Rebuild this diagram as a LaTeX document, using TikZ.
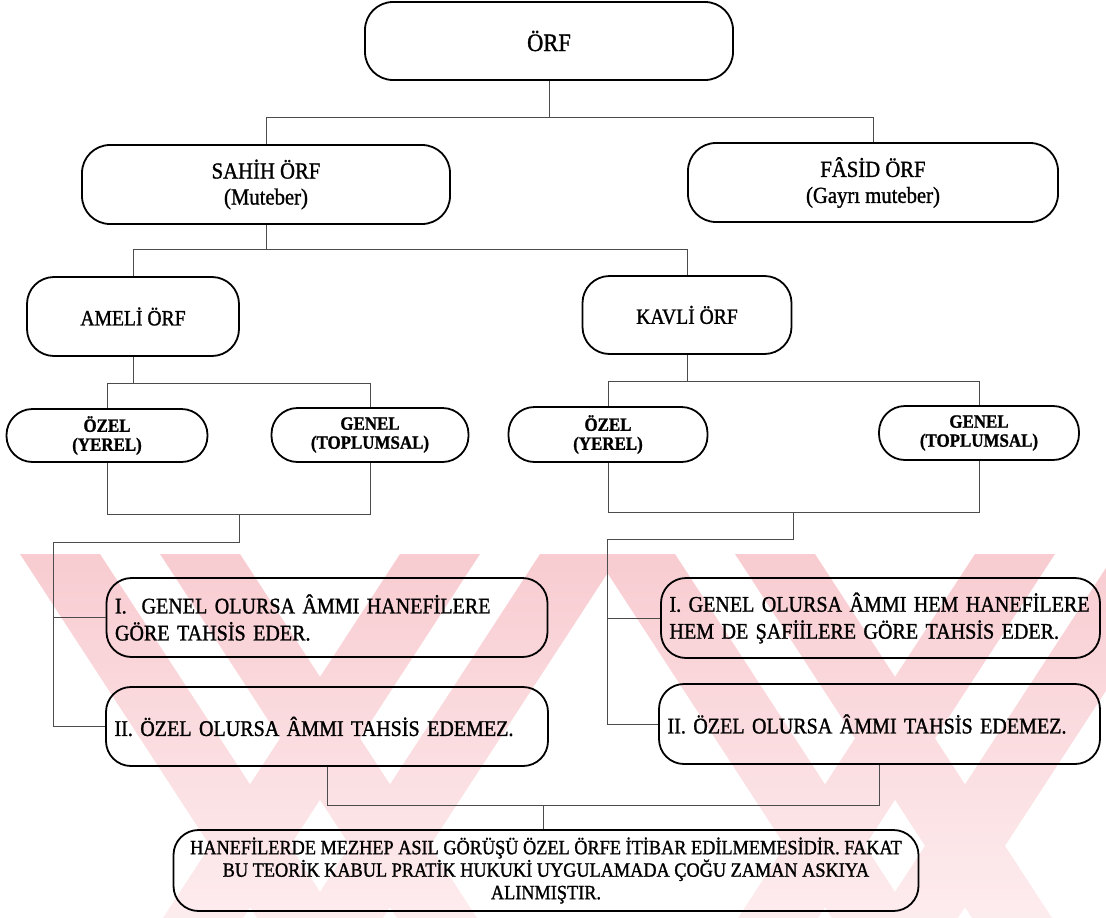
\documentclass[tikz,border=0pt]{standalone}
\usepackage{fontspec}
\setmainfont{Liberation Serif}[FakeBold=1.2,FakeStretch=0.9]
\definecolor{wmtop}{RGB}{248,204,209}
\definecolor{wmbot}{RGB}{253,236,238}
\newcommand\fsTop{\fontsize{25}{28}\selectfont}
\newcommand\fsSec{\fontsize{23}{26}\selectfont}
\newcommand\fsThird{\fontsize{21.8}{24}\selectfont}
\newcommand\fsFourth{\fontsize{18.8}{19}\selectfont\bfseries}
\newcommand\fsRule{\fontsize{22.3}{27}\selectfont}
\newcommand\fsBottom{\fontsize{20.3}{22.5}\selectfont}
\begin{document}
\begin{tikzpicture}[x=1pt,y=-1pt,
  box/.style={draw=black, line width=1.8pt, rounded corners=#1, inner sep=0pt},
  box/.default=26pt,
  rulebox/.style={box=25pt, align=left, inner xsep=8.5pt, text width=#1},
  conn/.style={draw=black!70, line width=0.9pt},
  wmstripe/.style={top color=wmtop, bottom color=wmbot, draw=none}]
\useasboundingbox (0,0) rectangle (1106,918);

% watermark
\begin{scope}
\clip (0,554) rectangle (1106,918);
\foreach \x in {20,160,595,735}
  \shade[wmstripe] (\x,554) -- (\x+80,554) -- (\x+317,918) -- (\x+237,918) -- cycle;
\foreach \x in {400,540,975,1115}
  \shade[wmstripe] (\x,554) -- (\x+80,554) -- (\x-157,918) -- (\x-237,918) -- cycle;
\end{scope}

% nodes
\node[box=28pt, minimum width=368pt, minimum height=78pt, font=\fsTop] (orf) at (549,41) {ÖRF};
\node[box=28pt, minimum width=368pt, minimum height=79pt, align=center, font=\fsSec] (sahih) at (266,184.5) {SAHİH ÖRF\\(Muteber)};
\node[box=28pt, minimum width=370pt, minimum height=79pt, align=center, font=\fsSec] (fasid) at (873,182.5) {FÂSİD ÖRF\\(Gayrı muteber)};
\node[box=27pt, minimum width=212pt, minimum height=79pt, font=\fsThird] (ameli) at (133,316.5) {AMELİ ÖRF};
\node[box=27pt, minimum width=209pt, minimum height=78pt, font=\fsThird] (kavli) at (687,315) {KAVLİ ÖRF};
\node[box=26pt, minimum width=201pt, minimum height=53pt, align=center, font=\fsFourth] (ozelL) at (107,435.5) {ÖZEL\\(YEREL)};
\node[box=26pt, minimum width=197pt, minimum height=54pt, align=center, font=\fsFourth] (genelL) at (370,435) {GENEL\\(TOPLUMSAL)};
\node[box=26pt, minimum width=199pt, minimum height=55pt, align=center, font=\fsFourth] (ozelR) at (608,434.5) {ÖZEL\\(YEREL)};
\node[box=26pt, minimum width=200pt, minimum height=54pt, align=center, font=\fsFourth] (genelR) at (979,433) {GENEL\\(TOPLUMSAL)};
\node[rulebox=424pt, minimum height=79pt, font=\fsRule] (iL) at (327,617.5) {I.\ \ GENEL OLURSA ÂMMI HANEFİLERE\\GÖRE TAHSİS EDER.};
\node[rulebox=422pt, minimum height=80pt, font=\fsRule] (iR) at (880.5,618) {I. GENEL OLURSA ÂMMI HEM HANEFİLERE\\HEM DE ŞAFİİLERE GÖRE TAHSİS EDER.};
\node[rulebox=425pt, minimum height=79pt, font=\fsRule] (iiL) at (327,726.5) {II. ÖZEL OLURSA ÂMMI TAHSİS EDEMEZ.};
\node[rulebox=424pt, minimum height=80pt, font=\fsRule] (iiR) at (879.5,724) {II. ÖZEL OLURSA ÂMMI TAHSİS EDEMEZ.};
\node[box=25pt, minimum width=745pt, minimum height=81pt, align=center, font=\fsBottom] (bottom) at (546,870.5) {HANEFİLERDE MEZHEP ASIL GÖRÜŞÜ ÖZEL ÖRFE İTİBAR EDİLMEMESİDİR. FAKAT\\BU TEORİK KABUL PRATİK HUKUKİ UYGULAMADA ÇOĞU ZAMAN ASKIYA\\ALINMIŞTIR.};

% junctions
\coordinate (j1) at (549,117);
\coordinate (j2) at (266,249);
\coordinate (j3) at (133,383);
\coordinate (j4) at (687,381);
\coordinate (j5) at (239,514);
\coordinate (j6) at (239,542);
\coordinate (sL) at (53,542);
\coordinate (j7) at (793,512);
\coordinate (j8) at (793,539);
\coordinate (sR) at (607,539);
\coordinate (j9) at (543,805);

% connectors
\draw[conn] (orf.south) -- (j1);
\draw[conn] (sahih.north) -- (sahih.north |- j1) -- (fasid.north |- j1) -- (fasid.north);
\draw[conn] (sahih.south) -- (j2);
\draw[conn] (ameli.north) -- (ameli.north |- j2) -- (kavli.north |- j2) -- (kavli.north);
\draw[conn] (ameli.south) -- (j3);
\draw[conn] (ozelL.north) -- (ozelL.north |- j3) -- (genelL.north |- j3) -- (genelL.north);
\draw[conn] (kavli.south) -- (j4);
\draw[conn] (ozelR.north) -- (ozelR.north |- j4) -- (genelR.north |- j4) -- (genelR.north);
\draw[conn] (ozelL.south) -- (ozelL.south |- j5) -- (genelL.south |- j5) -- (genelL.south);
\draw[conn] (j5) -- (j6) -- (sL) -- (sL |- iiL.west) -- (iiL.west);
\draw[conn] (sL |- iL.west) -- (iL.west);
\draw[conn] (ozelR.south) -- (ozelR.south |- j7) -- (genelR.south |- j7) -- (genelR.south);
\draw[conn] (j7) -- (j8) -- (sR) -- (sR |- iiR.west) -- (iiR.west);
\draw[conn] (sR |- iR.west) -- (iR.west);
\draw[conn] (iiL.south) -- (iiL.south |- j9) -- (iiR.south |- j9) -- (iiR.south);
\draw[conn] (j9) -- (j9 |- bottom.north);
\end{tikzpicture}
\end{document}
